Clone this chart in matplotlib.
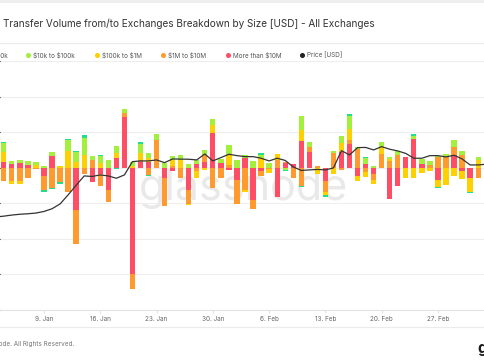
import matplotlib
matplotlib.use("Agg")
import matplotlib.pyplot as plt
import matplotlib.dates as mdates
import numpy as np
import pandas as pd

plt.rcParams['font.family'] = ['Inter', 'DejaVu Sans']
plt.rcParams['text.parse_math'] = False

# daily net transfer volume per size bucket (grid units), 4 Jan .. 5 Mar
days = pd.date_range('2023-01-04', periods=61, freq='D')

vol_1k = [0.03, 0, 0, 0, 0, -0.05, -0.04, -0.05, 0.03, 0.04,
          0.09, 0, 0.03, 0, -0.04, 0, 0, 0.05, -0.03, 0,
          0, 0, 0, 0, 0, 0, 0, 0, 0, 0,
          0, 0, 0.04, 0, 0, -0.02, 0, -0.02, 0, 0,
          -0.07, 0, 0, 0.05, 0, 0.04, 0, 0, 0, 0,
          0, 0.05, 0, 0, -0.03, 0, 0, 0, -0.03, 0,
          0]
vol_10k = [0.25, 0.09, 0.08, 0.11, 0.09, 0.04, 0.11, 0, 0.33, 0.28,
           0.49, 0.11, 0.20, 0.21, 0.19, 0.12, 0.12, 0.26, 0.14, 0.17,
           0.13, 0.11, 0.14, 0.11, 0.11, 0.14, 0.17, 0.12, 0.28, 0.22,
           0.10, 0.18, 0.09, 0.13, 0, -0.07, 0, 0.39, 0.14, 0,
           0, 0.05, 0.19, 0.38, 0.05, 0.16, 0.06, 0.14, 0.05, 0.11,
           0, 0.07, 0.14, 0.11, 0.02, 0.09, 0.19, 0.11, 0, 0.09,
           0]
vol_100k = [0.28, -0.11, -0.09, 0, 0.07, 0, 0, 0.06, 0.46, 0.16,
            0.35, 0, 0.14, 0, 0.14, 0, 0.05, 0.21, 0.10, 0,
            0, 0.15, 0.21, -0.03, -0.18, -0.06, 0.21, 0, 0.27, 0,
            -0.03, 0, 0.27, -0.10, 0.16, 0, 0, 0.31, 0, -0.17,
            -0.09, -0.17, 0.26, 0.31, -0.16, -0.13, -0.13, 0.19, 0.05, 0,
            -0.28, -0.28, -0.15, -0.08, -0.19, -0.48, -0.24, -0.24, -0.40, 0.21,
            0]
vol_1m = [-0.36, -0.36, -0.38, -0.29, -0.04, -0.38, -0.56, -0.40, -0.68, -0.96,
          -0.17, 0.23, -0.33, -0.33, 0, 0.11, -0.40, 0.05, -0.21, 0.77,
          -0.80, 0.06, -0.28, -0.38, -0.10, 0.21, -0.56, -0.28, 0.09, -0.68,
          -0.64, -0.24, -0.12, -0.05, 0.23, 0.05, -0.28, -0.51, 0.14, 0.04,
          -0.31, 0.42, -0.07, 0.11, 0.53, -0.12, -0.17, 0.39, 0.19, 0.35,
          0, 0, 0, 0.09, 0.30, 0.30, 0.23, 0.35, 0, -0.28,
          0.68]
vol_10m = [0.16, 0.11, 0.13, 0.09, 0, -0.24, 0.32, 0, 0, -1.18,
           0, -0.40, -0.17, -0.62, 0.27, 1.43, -3.00, 0.16, 0.16, 0,
           -0.28, -0.09, 0, -0.64, 0.11, 0.16, 0.98, 0.13, -0.07, -0.34,
           0.26, -0.92, -0.10, 0, -0.83, 0.12, 0.10, 0.74, 0.44, 0,
           -0.36, 0, 0.44, 0.66, -0.22, 0.11, -0.17, 0, -0.87, -0.50,
           0.30, 0.82, 0.11, 0, -0.34, 0, 0.35, -0.09, -0.28, 0,
           0]

price_days = pd.date_range('2023-01-03', periods=62, freq='D')
price = [16463, 16553, 16676, 16766, 16823, 16901, 17081, 17385, 17925, 18938,
         20029, 21075, 21019, 21188, 21075, 20816, 21188, 22684, 22763, 22763,
         22875, 22571, 22988, 22965, 22954, 22875, 23550, 22763, 23134, 23516,
         23359, 23246, 23246, 23066, 22763, 23066, 22819, 22088, 21694, 21750,
         21806, 21750, 21975, 23921, 23438, 24259, 24281, 24000, 24371, 24079,
         23888, 23606, 23066, 23066, 23359, 23359, 23213, 23404, 22988, 22313,
         22313, 22391]

labels = ['$1k to $10k', '$10k to $100k', '$100k to $1M', '$1M to $10M', 'More than $10M']
colors = ['#22dd8c', '#a2ef3c', '#ffd000', '#ff9a2e', '#ff4d66']
series = [vol_1k, vol_10k, vol_100k, vol_1m, vol_10m]

W, H = 485, 360
fig = plt.figure(figsize=(W / 100, H / 100), dpi=100)
fig.patch.set_facecolor('white')

def fx(px):
    return px / W

def fy(py):
    return 1 - py / H

ax = fig.add_axes([0, fy(310), 1, (310 - 61) / H])
ax.set_facecolor('none')

# stack: biggest bucket next to zero, smallest outside
pos_base = np.zeros(len(days))
neg_base = np.zeros(len(days))
for vals, col in zip(series[::-1], colors[::-1]):
    v = np.array(vals, dtype=float)
    p = np.where(v > 0, v, 0)
    n = np.where(v < 0, v, 0)
    ax.bar(days, p, bottom=pos_base, width=0.66, color=col, linewidth=0, zorder=2)
    ax.bar(days, n, bottom=neg_base, width=0.66, color=col, linewidth=0, zorder=2)
    pos_base += p
    neg_base += n

start = pd.Timestamp('2023-01-04')
ax.set_xlim(start - pd.Timedelta(days=0.47), start + pd.Timedelta(days=59.85))
ax.set_ylim(-4, 3)
ax.set_yticks(np.arange(-4, 4))
ax.grid(axis='y', color='#eeeeee', linewidth=0.8, zorder=0)
ax.tick_params(axis='y', left=False, labelleft=False)

ax.xaxis.set_major_locator(mdates.WeekdayLocator(byweekday=mdates.MO))
ax.xaxis.set_major_formatter(mdates.DateFormatter('%-d. %b'))
ax.tick_params(axis='x', length=2.5, color='#e2e2e2', labelsize=4.6,
               labelcolor='#666666', pad=1.5)
for s in ['top', 'left', 'right']:
    ax.spines[s].set_visible(False)
ax.spines['bottom'].set_color('#e2e2e2')
ax.spines['bottom'].set_linewidth(0.8)

ax.text(0.503, 0.442, 'glassnode', transform=ax.transAxes, ha='center',
        va='baseline', fontsize=31, color='#e9e9e9', zorder=1)

ax2 = ax.twinx()
ax2.plot(price_days, price, color='#333333', linewidth=0.9, zorder=3)
ax2.set_ylim(6000, 34000)
ax2.set_yticks([])
for s in ax2.spines.values():
    s.set_visible(False)
ax2.set_xlim(ax.get_xlim())

# card chrome
fig.add_artist(plt.Rectangle((0, fy(3)), 1, 3 / H, transform=fig.transFigure,
                             color='#eeeeee', linewidth=0))
fig.add_artist(plt.Line2D([0, 1], [fy(43), fy(43)], color='#ebebeb', linewidth=0.8))
fig.add_artist(plt.Line2D([0, 1], [fy(327), fy(327)], color='#ebebeb', linewidth=0.8))

fig.text(fx(3), fy(24), 'Transfer Volume from/to Exchanges Breakdown by Size [USD] - All Exchanges',
         fontsize=7.2, color='#333333', va='center', ha='left')

# legend row
fig.text(fx(7.5), fy(55), labels[0], fontsize=4.6, color='#555555', va='center', ha='right')
leg_x = [28, 97, 163, 228]
for lx, lab, col in zip(leg_x, labels[1:], colors[1:]):
    fig.add_artist(plt.Line2D([fx(lx)], [fy(55)], marker='o', markersize=2.6,
                              color=col, linewidth=0))
    fig.text(fx(lx + 5), fy(55), lab, fontsize=4.6, color='#555555', va='center', ha='left')
fig.add_artist(plt.Line2D([fx(302)], [fy(55)], marker='o', markersize=2.6,
                          color='#222222', linewidth=0))
fig.text(fx(307), fy(55), 'Price [USD]', fontsize=4.6, color='#555555', va='center', ha='left')

fig.text(fx(74.5), fy(343.5), '\u00a9 2023 Glassnode. All Rights Reserved.', fontsize=4.6,
         color='#777777', va='center', ha='right')
fig.text(fx(477), fy(348), 'glassnode', fontsize=11, fontweight='bold',
         color='#1a1a1a', va='center', ha='left')

fig.savefig('out.png', dpi=100)
